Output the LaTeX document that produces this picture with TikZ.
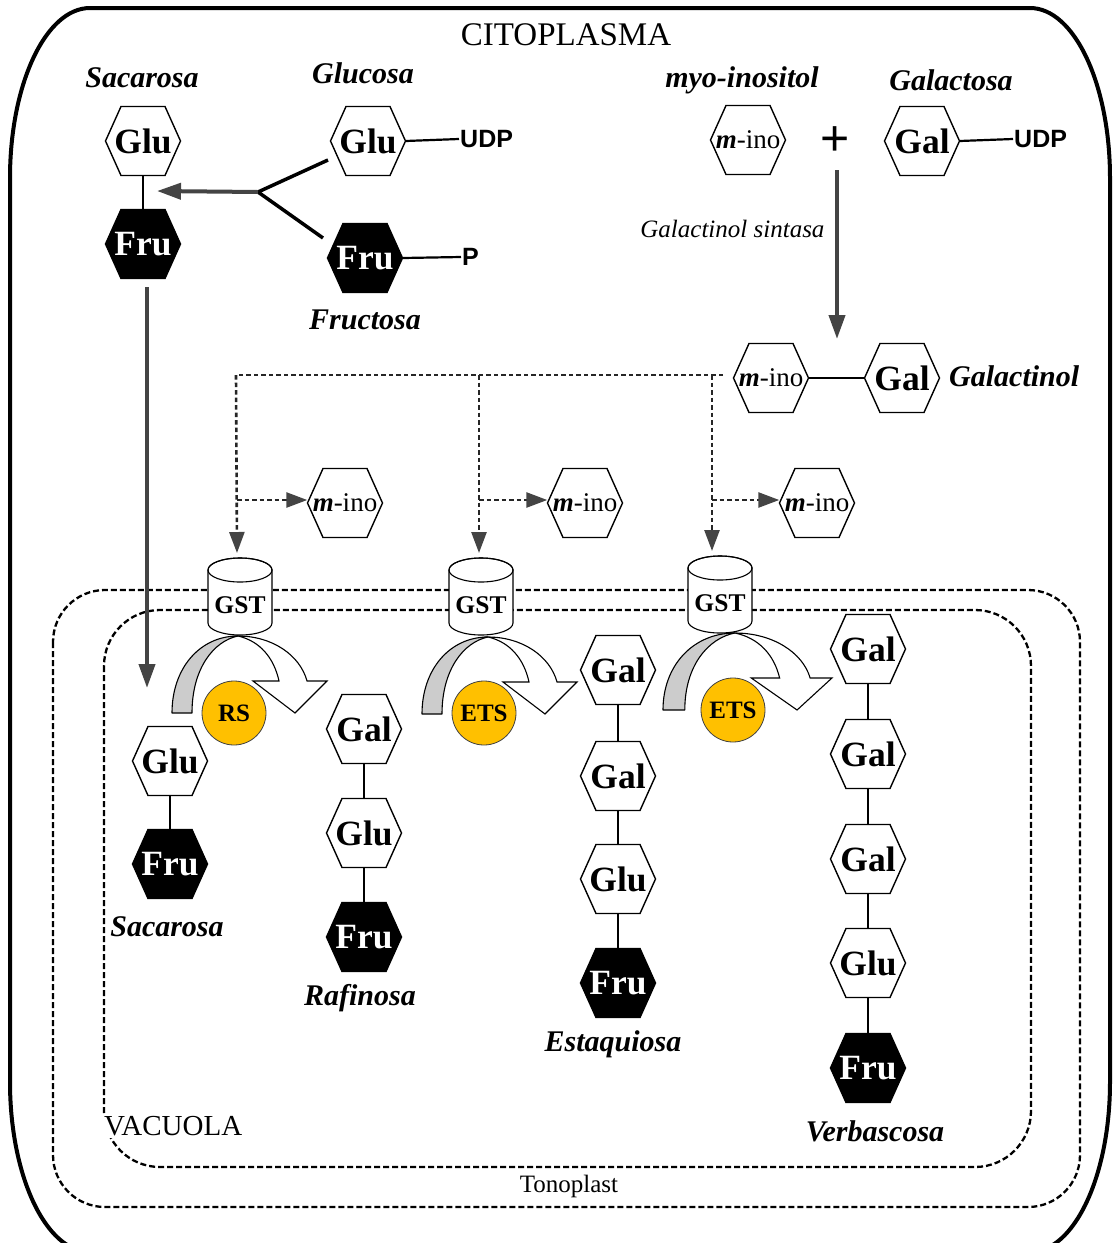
\documentclass[tikz,border=0pt]{standalone}
\usepackage{fontspec}
\setmainfont{Liberation Serif}
\newfontfamily\sansf{Liberation Sans}
\usetikzlibrary{arrows.meta,calc}

\definecolor{enzymeyellow}{RGB}{255,192,0}
\definecolor{turngray}{RGB}{204,204,204}
\definecolor{flowgray}{RGB}{68,68,68}

% one sugar ring: a flat-topped hexagon with a named label node on top
\newcommand\sugarhex[5]{%
  \draw[hexline, fill=#4] ({#2-37.5},#3) -- ({#2-22},{#3-34.5}) -- ({#2+22},{#3-34.5})
    -- ({#2+37.5},#3) -- ({#2+22},{#3+34.5}) -- ({#2-22},{#3+34.5}) -- cycle;
  \node[hexlabel] (#1) at (#2,#3) {#5};}

% galactan synthase transporter drawn as a cylinder
\newcommand\gstcyl[4]{%
  \draw[line width=1.1pt, fill=white] ({#2-32},#3) -- ({#2-32},#4)
    arc[start angle=180, end angle=0, x radius=32, y radius=12] -- ({#2+32},#3)
    arc[start angle=0, end angle=-180, x radius=32, y radius=12] -- cycle;
  \draw[line width=1.1pt] (#2,#3) ellipse [x radius=32, y radius=12];
  \node[gstlabel] (#1) at (#2,{#4-18}) {GST};}

\newcommand\inolabel{{\fontsize{27}{29}\selectfont\mdseries{\bfseries\itshape m}-ino}}

\tikzset{
  hexlabel/.style={minimum width=75pt, minimum height=69pt, inner sep=0pt,
    font=\fontsize{35.5}{37}\selectfont\bfseries},
  hexline/.style={line width=1.4pt, line join=miter},
  molname/.style={font=\fontsize{30}{32}\selectfont\bfseries\itshape, inner sep=1pt},
  bond/.style={line width=2.6pt},
  thinbond/.style={line width=2.2pt},
  flow/.style={draw=flowgray, line width=4pt, -{Triangle[length=24pt,width=16pt]}},
  feed/.style={draw=black!85, line width=2.6pt, dash pattern=on 4.5pt off 3pt},
  feedtip/.style={feed, -{Triangle[length=21pt,width=15pt,color=flowgray]}},
  membrane/.style={line width=2.3pt, dash pattern=on 6pt off 3pt},
  enzyme/.style={circle, draw=black!75, fill=enzymeyellow, line width=0.8pt,
    minimum size=64pt, inner sep=0pt, font=\fontsize{25}{27}\selectfont\bfseries},
  gstlabel/.style={inner sep=0pt, font=\fontsize{25.5}{27}\selectfont\bfseries},
  udp/.style={font=\sansf\bfseries\fontsize{25}{27}\selectfont, inner sep=1pt, anchor=west},
  turn/.pic={
    \draw[line width=1.1pt, fill=turngray, line join=round]
      (0,0) .. controls (0,-45) and (28,-77) .. (66,-77)
      .. controls (42,-72) and (20,-45) .. (20,0) -- cycle;
    \draw[line width=1.1pt, fill=white, line join=miter]
      (66,-77) .. controls (100,-77) and (128,-58) .. (135,-32) -- (155,-32)
      -- (123,0) -- (81,-32) -- (107,-32)
      .. controls (102,-55) and (88,-72) .. (66,-77) -- cycle;
  }
}

\begin{document}
\begin{tikzpicture}[x=1pt, y=-1pt]
\useasboundingbox (0,0) rectangle (1112,1243);

% cell wall
\draw[line width=4pt]
  (90,8) -- (1030,8) arc[start angle=-90, end angle=0, x radius=80, y radius=170]
  -- (1110,1082) arc[start angle=0, end angle=90, x radius=80, y radius=170]
  -- (90,1252) arc[start angle=90, end angle=180, x radius=80, y radius=170]
  -- (10,178) arc[start angle=180, end angle=270, x radius=80, y radius=170] -- cycle;
\node[font=\fontsize{33}{35}\selectfont] (cito) at (566,35) {CITOPLASMA};

% tonoplast (double membrane)
\draw[membrane, rounded corners=52pt] (53,590) rectangle (1080,1207);
\draw[membrane, rounded corners=56pt] (104,610) rectangle (1031,1167);
\node[font=\fontsize{29}{31}\selectfont, fill=white, inner sep=2pt, anchor=west] (vac) at (102,1126) {VACUOLA};
\node[font=\fontsize{25}{27}\selectfont] (tono) at (569,1186) {Tonoplast};

% ---- sucrose synthesis in the cytoplasm ----
\node[molname] (lsac) at (142,78) {Sacarosa};
\sugarhex{sGlu}{143}{141}{white}{Glu}
\sugarhex{sFru}{143}{244}{black}{\color{white}Fru}
\draw[thinbond] (sGlu.south) -- (sFru.north);

\node[molname] (lglc) at (363,73) {Glucosa};
\sugarhex{gGlu}{368}{141}{white}{Glu}
\node[udp] (udp1) at (459,139) {UDP};
\draw[thinbond] (gGlu.east) -- (udp1.west);

\sugarhex{fFru}{365}{258}{black}{\color{white}Fru}
\node[udp] (pp) at (461,257) {P};
\draw[thinbond] (fFru.east) -- (pp.west);
\node[molname] (lfru) at (365,320) {Fructosa};

\coordinate (yj) at (258,192);
\coordinate (ya) at (328,160);
\coordinate (yb) at (323,238);
\coordinate (ytip) at (157,191);
\draw[line width=3.5pt] (ya) -- (yj) -- (yb);
\draw[flow] (yj) -- (ytip);

% sucrose carried into the vacuole
\coordinate (sa0) at (147,287);
\coordinate (sa1) at (147,688);
\draw[flow] (sa0) -- (sa1);

% ---- galactinol synthesis ----
\node[molname] (lino) at (742,80) {myo-inositol};
\sugarhex{inoA}{748}{140}{white}{\inolabel}
\node[font=\sansf\fontsize{50}{50}\selectfont] (plus) at (835,141) {+};
\node[molname] (lgal) at (951,80) {Galactosa};
\sugarhex{galA}{922}{141}{white}{Gal}
\node[udp] (udp2) at (1013,139) {UDP};
\draw[thinbond] (galA.east) -- (udp2.west);

\coordinate (ga0) at (837,170);
\coordinate (ga1) at (837,339);
\draw[flow] (ga0) -- (ga1);
\node[font=\fontsize{25}{27}\selectfont\itshape, anchor=east] (gs) at (828,229) {Galactinol sintasa};

\sugarhex{inoB}{771}{378}{white}{\inolabel}
\sugarhex{galB}{902}{378}{white}{Gal}
\draw[thinbond] (inoB.east) -- (galB.west);
\node[molname, anchor=west] (lgtol) at (948,376) {Galactinol};

% ---- galactinol feeds the three synthases ----
\coordinate (dL) at (236,375);
\coordinate (dR) at (723,375);
\coordinate (d2) at (479,375);
\coordinate (d3) at (712,375);
\coordinate (t1) at (237,553);
\coordinate (t2) at (479,553);
\coordinate (t3) at (712,551);
\draw[feed] (dR) -- (dL);
\draw[feedtip] (dL) -- (t1);
\draw[feedtip] (d2) -- (t2);
\draw[feedtip] (d3) -- (t3);

\sugarhex{ino1}{345}{503}{white}{\inolabel}
\sugarhex{ino2}{585}{503}{white}{\inolabel}
\sugarhex{ino3}{817}{503}{white}{\inolabel}
\coordinate (b1) at (237,500);
\coordinate (b2) at (479,500);
\coordinate (b3) at (712,500);
\draw[feedtip] (b1) -- (ino1.west |- b1);
\draw[feedtip] (b2) -- (ino2.west |- b2);
\draw[feedtip] (b3) -- (ino3.west |- b3);

% ---- transporters and enzymes ----
\gstcyl{gst1}{240}{570}{623}
\gstcyl{gst2}{481}{570}{623}
\gstcyl{gst3}{720}{568}{621}

\pic at (172,713) {turn};
\pic at (422,714) {turn};
\pic[xscale=1.09] at (663,710) {turn};

\node[enzyme] (rs) at (234,713) {RS};
\node[enzyme] (ets1) at (484,713) {ETS};
\node[enzyme] (ets2) at (733,710) {ETS};

% ---- oligosaccharides in the vacuole ----
\sugarhex{vGlu}{170}{761}{white}{Glu}
\sugarhex{vFru}{170}{864}{black}{\color{white}Fru}
\draw[bond] (vGlu.south) -- (vFru.north);
\node[molname] (lvsac) at (167,927) {Sacarosa};

\sugarhex{rGal}{364}{729}{white}{Gal}
\sugarhex{rGlu}{364}{833}{white}{Glu}
\sugarhex{rFru}{364}{937}{black}{\color{white}Fru}
\draw[bond] (rGal.south) -- (rGlu.north);
\draw[bond] (rGlu.south) -- (rFru.north);
\node[molname] (lraf) at (360,998) {Rafinosa};

\sugarhex{eGalA}{618}{670}{white}{Gal}
\sugarhex{eGalB}{618}{776}{white}{Gal}
\sugarhex{eGlu}{618}{879}{white}{Glu}
\sugarhex{eFru}{618}{983}{black}{\color{white}Fru}
\draw[bond] (eGalA.south) -- (eGalB.north);
\draw[bond] (eGalB.south) -- (eGlu.north);
\draw[bond] (eGlu.south) -- (eFru.north);
\node[molname] (lest) at (613,1044) {Estaquiosa};

\sugarhex{bGalA}{868}{649}{white}{Gal}
\sugarhex{bGalB}{868}{754}{white}{Gal}
\sugarhex{bGalC}{868}{859}{white}{Gal}
\sugarhex{bGlu}{868}{963}{white}{Glu}
\sugarhex{bFru}{868}{1068}{black}{\color{white}Fru}
\draw[bond] (bGalA.south) -- (bGalB.north);
\draw[bond] (bGalB.south) -- (bGalC.north);
\draw[bond] (bGalC.south) -- (bGlu.north);
\draw[bond] (bGlu.south) -- (bFru.north);
\node[molname] (lverb) at (875,1131) {Verbascosa};
\end{tikzpicture}
\end{document}
